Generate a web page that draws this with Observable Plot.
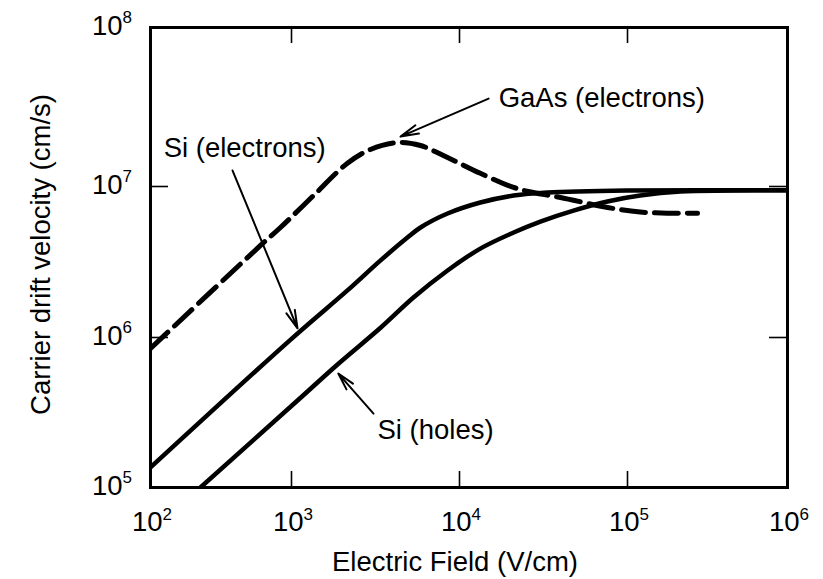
<!DOCTYPE html>
<html>
<head>
<meta charset="utf-8">
<script src="https://cdn.jsdelivr.net/npm/d3@7"></script>
<script src="https://cdn.jsdelivr.net/npm/@observablehq/plot@0.6"></script>
<style>
  html, body { margin: 0; padding: 0; background: #fff; }
  #chart { width: 823px; height: 579px; }
</style>
</head>
<body>
<div id="chart"></div>
<script>
// ---- Data ----
// Electric field (V/cm) and carrier drift velocity (cm/s)
const siElecField = [100, 1000, 2153, 3390, 4900, 5860, 8490, 13300, 21000, 33400, 100000, 1000000];
const siElecVel   = [1.36e5, 9.8e5, 2.05e6, 3.24e6, 4.59e6, 5.35e6, 6.62e6, 7.83e6, 8.71e6, 9.12e6, 9.4e6, 9.45e6];

const siHoleField = [226, 1086, 1879, 3390, 5320, 8490, 13300, 21000, 30300, 47700, 76000, 120000, 214000, 440000, 1000000];
const siHoleVel   = [1.0e5, 3.8e5, 6.61e5, 1.16e6, 1.84e6, 2.78e6, 3.88e6, 4.96e6, 5.86e6, 6.93e6, 7.96e6, 8.71e6, 9.27e6, 9.4e6, 9.45e6];

const gaasField = [100, 603, 835, 1352, 2153, 2950, 4270, 5860, 8490, 13300, 21000, 27500, 39900, 76000, 120000, 178000, 274000];
const gaasVel   = [8.45e5, 4.07e6, 5.35e6, 8.71e6, 1.40e7, 1.71e7, 1.89e7, 1.81e7, 1.52e7, 1.21e7, 9.85e6, 9.12e6, 8.46e6, 7.26e6, 6.78e6, 6.66e6, 6.64e6];

// Axis ticks and labels
const xTicks = [1e2, 1e3, 1e4, 1e5, 1e6];
const xTickExp = ["2", "3", "4", "5", "6"];
const yTicks = [1e5, 1e6, 1e7, 1e8];
const yTickExp = ["5", "6", "7", "8"];
const xInnerTicks = [1e3, 1e4, 1e5];
const yInnerTicks = [1e6, 1e7];

const xTitle = "Electric Field (V/cm)";
const yTitle = "Carrier drift velocity (cm/s)";

// Annotations (data coordinates)
const labelText = ["GaAs (electrons)", "Si (electrons)", "Si (holes)"];
const labelX = [17100, 124, 3250];
const labelY = [3.57e7, 1.73e7, 2.4e5];

const arrowX1 = [14900, 382, 3078];
const arrowY1 = [3.57e7, 1.26e7, 3.11e5];
const arrowX2 = [4456, 1086, 1900];
const arrowY2 = [2.06e7, 1.15e6, 5.75e5];

// ---- Build tables ----
const toRows = (fx, vy) => fx.map((e, i) => ({E: e, v: vy[i]}));
const siElec = toRows(siElecField, siElecVel);
const siHole = toRows(siHoleField, siHoleVel);
const gaas = toRows(gaasField, gaasVel);
const labels = labelText.map((t, i) => ({text: t, x: labelX[i], y: labelY[i]}));
const arrows = arrowX1.map((x, i) => ({x1: x, y1: arrowY1[i], x2: arrowX2[i], y2: arrowY2[i]}));

const W = 823, H = 579;
const mL = 150, mR = 36, mT = 27, mB = 92;
const plotW = W - mL - mR, plotH = H - mT - mB;
const FS = 27.5, FSE = 17;

const chart = Plot.plot({
  width: W,
  height: H,
  marginLeft: mL,
  marginRight: mR,
  marginTop: mT,
  marginBottom: mB,
  style: {fontFamily: "'Liberation Sans', Arial, Helvetica, sans-serif", background: "#fff", color: "#000"},
  x: {type: "log", domain: xTicks, range: [150, 291, 459, 627, 787], axis: null},
  y: {type: "log", domain: yTicks, range: [487, 337, 186, 27], axis: null},
  marks: [
    // inward ticks
    Plot.tickX(xInnerTicks, {x: d => d, insetTop: plotH - 16, stroke: "#000", strokeWidth: 1.6}),
    Plot.tickX(xInnerTicks, {x: d => d, insetBottom: plotH - 16, stroke: "#000", strokeWidth: 1.6}),
    Plot.tickY(yInnerTicks, {y: d => d, insetRight: plotW - 18, stroke: "#000", strokeWidth: 1.6}),
    Plot.tickY(yInnerTicks, {y: d => d, insetLeft: plotW - 18, stroke: "#000", strokeWidth: 1.6}),
    // curves
    Plot.line(siElec, {x: "E", y: "v", curve: "catmull-rom", stroke: "#000", strokeWidth: 4.5, clip: true}),
    Plot.line(siHole, {x: "E", y: "v", curve: "catmull-rom", stroke: "#000", strokeWidth: 4.5, clip: true}),
    Plot.line(gaas, {x: "E", y: "v", curve: "catmull-rom", stroke: "#000", strokeWidth: 5, strokeDasharray: "24,9", clip: true}),
    // annotations
    Plot.arrow(arrows, {x1: "x1", y1: "y1", x2: "x2", y2: "y2", stroke: "#000", strokeWidth: 2, headLength: 14, headAngle: 28}),
    Plot.text(labels, {x: "x", y: "y", text: "text", textAnchor: "start", lineAnchor: "middle", fontSize: FS, fill: "#000"}),
    // frame
    Plot.frame({stroke: "#000", strokeWidth: 3}),
    // x tick labels
    Plot.text(xTicks, {x: d => d, text: () => "10", frameAnchor: "bottom", textAnchor: "end", lineAnchor: "bottom", dx: 12, dy: 43, fontSize: FS, fill: "#000"}),
    Plot.text(xTicks, {x: d => d, text: (d, i) => xTickExp[i], frameAnchor: "bottom", textAnchor: "start", lineAnchor: "bottom", dx: 12, dy: 32, fontSize: FSE, fill: "#000"}),
    // y tick labels
    Plot.text(yTicks, {y: d => d, text: () => "10", frameAnchor: "left", textAnchor: "end", lineAnchor: "bottom", dx: -28, dy: 7, fontSize: FS, fill: "#000"}),
    Plot.text(yTicks, {y: d => d, text: (d, i) => yTickExp[i], frameAnchor: "left", textAnchor: "start", lineAnchor: "bottom", dx: -28, dy: -5, fontSize: FSE, fill: "#000"}),
    // axis titles
    Plot.text([xTitle], {frameAnchor: "bottom", textAnchor: "middle", lineAnchor: "middle", dx: -14, dy: 75, fontSize: FS, fill: "#000"}),
    Plot.text([yTitle], {frameAnchor: "left", textAnchor: "middle", rotate: -90, lineAnchor: "middle", dx: -109, dy: -3, fontSize: FS, fill: "#000"})
  ]
});
document.getElementById("chart").appendChild(chart);
</script>
</body>
</html>
